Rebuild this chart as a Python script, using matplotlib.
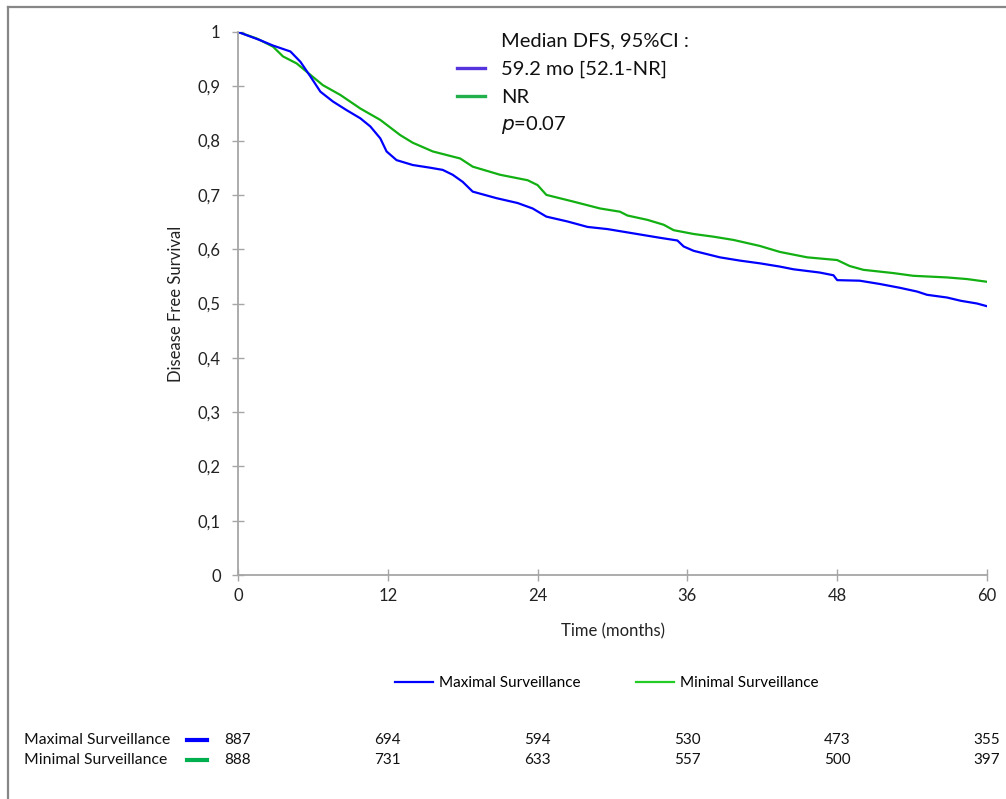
import matplotlib
matplotlib.use('Agg')
import matplotlib.pyplot as plt
from matplotlib.lines import Line2D
from matplotlib.transforms import blended_transform_factory

plt.rcParams['font.family'] = ['Lato', 'DejaVu Sans']

# Kaplan-Meier curves (months, survival)
max_t = [0, 1.76, 2.8, 4.2, 5.0, 5.8, 6.6, 7.6, 8.7, 9.8, 10.6, 11.4, 11.9, 12.7, 14.0,
         15.4, 16.4, 17.2, 18.0, 18.8, 20.7, 22.4, 23.6, 24.7, 26.4, 28.0, 29.6, 31.7,
         33.8, 35.2, 35.7, 36.5, 38.6, 40.2, 41.8, 43.4, 44.5, 46.6, 47.7, 48.0, 49.8,
         51.4, 53.0, 54.4, 55.2, 56.8, 57.9, 59.2, 60.0]
max_s = [1.0, 0.985, 0.975, 0.964, 0.945, 0.918, 0.890, 0.872, 0.856, 0.841, 0.826, 0.804,
         0.780, 0.764, 0.755, 0.750, 0.746, 0.737, 0.724, 0.706, 0.694, 0.685, 0.675, 0.660,
         0.651, 0.641, 0.637, 0.629, 0.621, 0.616, 0.605, 0.597, 0.585, 0.579, 0.574, 0.568,
         0.563, 0.557, 0.552, 0.543, 0.542, 0.536, 0.529, 0.522, 0.516, 0.511, 0.505, 0.500,
         0.495]

min_t = [0, 1.5, 2.8, 3.6, 4.7, 5.8, 6.8, 8.2, 9.8, 11.4, 13.0, 14.0, 15.6, 17.8, 18.8,
         21.0, 23.2, 24.0, 24.7, 26.8, 29.0, 30.6, 31.2, 32.8, 34.1, 34.9, 36.5, 38.1,
         39.7, 41.8, 43.4, 45.6, 48.0, 49.0, 50.1, 52.5, 54.1, 56.8, 58.4, 60.0]
min_s = [1.0, 0.988, 0.973, 0.955, 0.942, 0.921, 0.902, 0.884, 0.859, 0.838, 0.810, 0.796,
         0.780, 0.767, 0.752, 0.737, 0.727, 0.718, 0.700, 0.688, 0.675, 0.669, 0.662, 0.654,
         0.645, 0.635, 0.628, 0.623, 0.617, 0.606, 0.595, 0.585, 0.580, 0.569, 0.562, 0.556,
         0.551, 0.548, 0.545, 0.540]

x_ticks = [0, 12, 24, 36, 48, 60]
y_ticks = [0, 0.1, 0.2, 0.3, 0.4, 0.5, 0.6, 0.7, 0.8, 0.9, 1]
y_labels = ['0', '0,1', '0,2', '0,3', '0,4', '0,5', '0,6', '0,7', '0,8', '0,9', '1']

groups = ['Maximal Surveillance', 'Minimal Surveillance']
at_risk_max = [887, 694, 594, 530, 473, 355]
at_risk_min = [888, 731, 633, 557, 500, 397]

BLUE = '#0000ff'
GREEN = '#12b012'
AXIS_GRAY = '#a6a6a6'

fig = plt.figure(figsize=(10.06, 7.99), dpi=100)
ax = fig.add_axes([0.2366, 0.2803, 0.7445, 0.6797])

ax.plot(min_t, min_s, color=GREEN, lw=1.6)
ax.plot(max_t, max_s, color=BLUE, lw=1.6)

ax.set_xlim(0, 60)
ax.set_ylim(0, 1)
ax.set_xticks(x_ticks)
ax.set_yticks(y_ticks)
ax.set_yticklabels(y_labels)
for side in ['top', 'right']:
    ax.spines[side].set_visible(False)
for side in ['left', 'bottom']:
    ax.spines[side].set_color(AXIS_GRAY)
    ax.spines[side].set_linewidth(1.3)
ax.tick_params(direction='inout', length=9, width=1.0, color=AXIS_GRAY,
               labelsize=12, labelcolor='#222222')
ax.tick_params(axis='y', pad=8)
ax.tick_params(axis='x', pad=5)
ax.set_xlabel('Time (months)', fontsize=12, labelpad=14, color='#222222')
ax.set_ylabel('Disease Free Survival', fontsize=12, labelpad=10, color='#222222')

# median annotation block
ax.text(0.351, 0.983, 'Median DFS, 95%CI :', transform=ax.transAxes, fontsize=14.5,
        va='center', color='#111111')
ax.text(0.351, 0.931, '59.2 mo [52.1-NR]', transform=ax.transAxes, fontsize=14.5,
        va='center', color='#111111')
ax.text(0.351, 0.880, 'NR', transform=ax.transAxes, fontsize=14.5,
        va='center', color='#111111')
ax.text(0.351, 0.828, r'$\mathit{p}$' + '=0.07', transform=ax.transAxes, fontsize=14.5,
        va='center', color='#111111')
ax.plot([0.293, 0.33], [0.933, 0.933], transform=ax.transAxes, color='#5533dd', lw=2.4,
        clip_on=False)
ax.plot([0.293, 0.33], [0.882, 0.882], transform=ax.transAxes, color='#22b04b', lw=2.4,
        clip_on=False)

# bottom legend
handles = [Line2D([0], [0], color=BLUE, lw=1.6), Line2D([0], [0], color='#22cc22', lw=1.6)]
fig.legend(handles, groups, loc='center', bbox_to_anchor=(0.603, 0.145), ncol=2,
           frameon=False, fontsize=11, handlelength=2.5, handletextpad=0.4,
           columnspacing=3.6)

# number at risk table
trans = blended_transform_factory(ax.transData, fig.transFigure)
rows = [(groups[0], at_risk_max, BLUE, 1 - 740 / 799),
        (groups[1], at_risk_min, '#00b050', 1 - 760 / 799)]
for name, counts, color, yy in rows:
    fig.text(24 / 1006, yy, name, fontsize=11.3, va='center', color='#111111')
    fig.add_artist(Line2D([187 / 1006, 207 / 1006], [yy, yy], color=color, lw=3))
    for t, n in zip(x_ticks, counts):
        fig.text(t, yy, str(n), transform=trans, fontsize=11, ha='center', va='center',
                 color='#111111')

# outer frame (left and top edges)
frame = '#878787'
fig.add_artist(Line2D([8 / 1006, 8 / 1006], [0, 1 - 7 / 799], color=frame, lw=1.6))
fig.add_artist(Line2D([8 / 1006, 1], [1 - 7 / 799, 1 - 7 / 799], color=frame, lw=1.6))

fig.savefig('out.png', dpi=100, facecolor='white')
